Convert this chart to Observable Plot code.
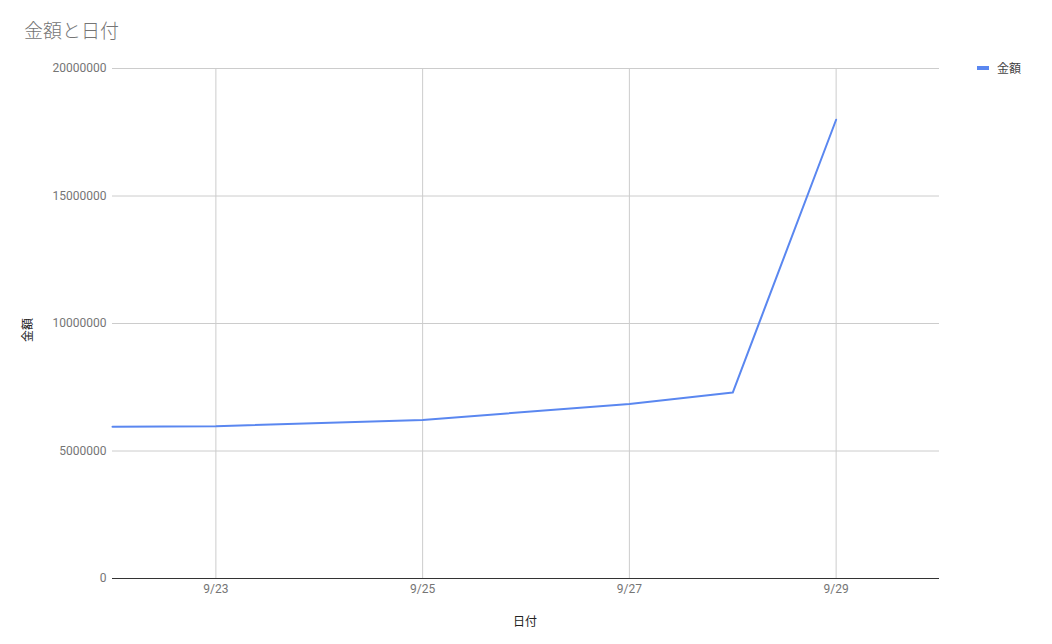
<!DOCTYPE html>
<html>
<head>
<meta charset="utf-8">
<script src="https://cdn.jsdelivr.net/npm/d3@7"></script>
<script src="https://cdn.jsdelivr.net/npm/@observablehq/plot@0.6"></script>
<style>
  body { margin: 0; background: #fff; }
  #wrap { position: relative; width: 1052px; height: 644px; font-family: Roboto, "Noto Sans CJK JP", sans-serif; }
  #chart { position: absolute; left: 0; top: 0; }
  .title { position: absolute; left: 24px; top: 16px; font-size: 19px; color: #757575; font-family: "Noto Sans CJK JP", sans-serif; font-weight: 300; }
  .legend { position: absolute; left: 977px; top: 59px; font-size: 12px; color: #444; display: flex; align-items: center; font-family: "Noto Sans CJK JP", sans-serif; }
  .legend .sw { width: 12px; height: 4px; background: #5a87f0; margin-right: 8px; }
  .ytitle { position: absolute; left: 26px; top: 330px; transform: translate(-50%, -50%) rotate(-90deg); font-size: 12px; color: #222; font-family: "Noto Sans CJK JP", sans-serif; white-space: nowrap; }
  .xtitle { position: absolute; left: 525px; top: 620px; transform: translate(-50%, -50%); font-size: 12px; color: #222; font-family: "Noto Sans CJK JP", sans-serif; }
</style>
</head>
<body>
<div id="wrap">
  <div id="chart"></div>
  <div class="title">金額と日付</div>
  <div class="legend"><div class="sw"></div><span>金額</span></div>
  <div class="ytitle">金額</div>
  <div class="xtitle">日付</div>
</div>
<script>
const dates = ["2018-09-22", "2018-09-23", "2018-09-25", "2018-09-27", "2018-09-28", "2018-09-29"];
const amounts = [5950000, 5970000, 6220000, 6840000, 7290000, 17990000];
const xTickDates = ["2018-09-23", "2018-09-25", "2018-09-27", "2018-09-29"];
const xDomain = ["2018-09-22", "2018-09-30"];
const yTicks = [0, 5000000, 10000000, 15000000, 20000000];

const data = dates.map((d, i) => ({date: new Date(d + "T00:00:00Z"), amount: amounts[i]}));
const xt = xTickDates.map(d => new Date(d + "T00:00:00Z"));
const fmtDate = d => `${d.getUTCMonth() + 1}/${d.getUTCDate()}`;

const chart = Plot.plot({
  width: 1052,
  height: 644,
  marginLeft: 112,
  marginRight: 113,
  marginTop: 68,
  marginBottom: 66,
  style: {fontFamily: "Roboto, sans-serif", fontSize: "12px", color: "#757575", background: "transparent"},
  x: {type: "utc", domain: xDomain.map(d => new Date(d + "T00:00:00Z")), label: null},
  y: {domain: [0, 20000000], label: null},
  marks: [
    Plot.gridY(yTicks, {stroke: "#cccccc", strokeOpacity: 1}),
    Plot.gridX(xt, {stroke: "#cccccc", strokeOpacity: 1}),
    Plot.ruleY([0], {stroke: "#333333", strokeWidth: 1}),
    Plot.line(data, {x: "date", y: "amount", stroke: "#5a87f0", strokeWidth: 2}),
    Plot.axisX(xt, {tickSize: 0, tickPadding: 6, tickFormat: fmtDate, label: null, fill: "#757575"}),
    Plot.axisY(yTicks, {tickSize: 0, tickPadding: 6, tickFormat: d3.format("d"), label: null, fill: "#757575"})
  ]
});
document.getElementById("chart").appendChild(chart);
</script>
</body>
</html>
